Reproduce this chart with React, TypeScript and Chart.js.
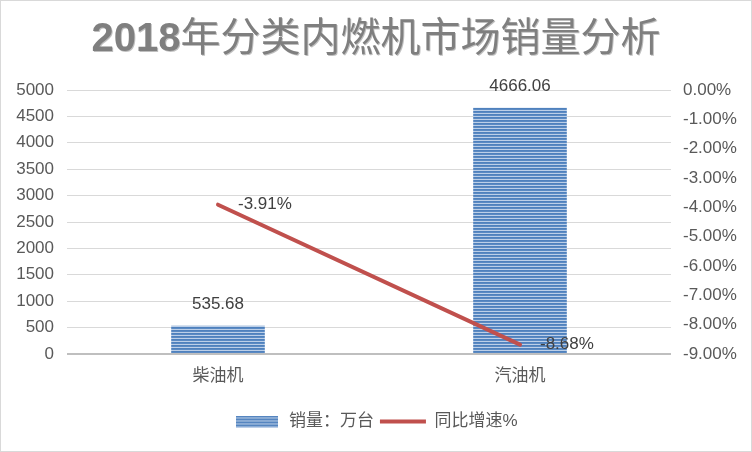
import { useEffect, useRef } from "react";
import { Chart, registerables } from "chart.js";
import type { Plugin } from "chart.js";

Chart.register(...registerables);

const titleYear = "2018";
const titleRest = "年分类内燃机市场销量分析";
const categories = ["柴油机", "汽油机"];
const salesLabel = "销量：万台";
const salesValues = [535.68, 4666.06];
const growthLabel = "同比增速%";
const growthValues = [-3.91, -8.68];

const FONT = "'Liberation Sans', 'Noto Sans CJK SC', sans-serif";
const TEXT = "#595959";

// horizontal stripe fill, 3px period
function stripes(w: number, h: number) {
  const c = document.createElement("canvas");
  c.width = w;
  c.height = h;
  const g = c.getContext("2d")!;
  const rows = ["#4f81bd", "#5b8ac3", "#bccfe8"];
  for (let y = 0; y < h; y++) {
    g.fillStyle = rows[y % 3];
    g.fillRect(0, y, w, 1);
  }
  return c;
}

const framePlugin: Plugin<"bar"> = {
  id: "frame",
  beforeDraw(chart) {
    const { ctx, width, height } = chart;
    ctx.save();
    ctx.fillStyle = "#ffffff";
    ctx.fillRect(0, 0, width, height);
    ctx.strokeStyle = "#d9d9d9";
    ctx.lineWidth = 1;
    ctx.strokeRect(0.5, 0.5, width - 1, height - 1);
    ctx.restore();
  },
  afterDraw(chart) {
    const ctx = chart.ctx;
    ctx.save();
    const boldFont = `bold 40px ${FONT}`;
    const plainFont = `40px ${FONT}`;
    ctx.font = boldFont;
    const w1 = ctx.measureText(titleYear).width;
    ctx.font = plainFont;
    const w2 = ctx.measureText(titleRest).width;
    const x0 = chart.width / 2 - (w1 + w2) / 2;
    ctx.textAlign = "left";
    ctx.textBaseline = "middle";
    ctx.shadowColor = "rgba(0,0,0,0.25)";
    ctx.shadowOffsetX = 1;
    ctx.shadowOffsetY = 1;
    ctx.fillStyle = "#7f7f7f";
    ctx.font = boldFont;
    ctx.fillText(titleYear, x0, 40);
    ctx.font = plainFont;
    ctx.fillText(titleRest, x0 + w1, 40);
    ctx.restore();
  },
};

const labelPlugin: Plugin<"bar"> = {
  id: "valueLabels",
  afterDatasetsDraw(chart) {
    const ctx = chart.ctx;
    ctx.save();
    ctx.font = `17px ${FONT}`;
    ctx.fillStyle = "#404040";
    ctx.textBaseline = "middle";
    chart.getDatasetMeta(0).data.forEach((el, i) => {
      ctx.textAlign = "center";
      ctx.fillText(salesValues[i].toFixed(2), el.x, el.y - 21);
    });
    chart.getDatasetMeta(1).data.forEach((el, i) => {
      ctx.textAlign = "left";
      ctx.fillText(growthValues[i].toFixed(2) + "%", el.x + 20, el.y);
    });
    ctx.restore();
  },
};

const App = () => {
  const canvasRef = useRef<HTMLCanvasElement>(null);
  const chartRef = useRef<Chart | null>(null);

  useEffect(() => {
    document.body.style.margin = "0";
    if (!canvasRef.current) return;
    const ctx = canvasRef.current.getContext("2d");
    if (!ctx) return;

    const barFill = ctx.createPattern(stripes(4, 3), "repeat")!;
    const legendSwatch = stripes(42, 12);

    chartRef.current = new Chart(ctx, {
      type: "bar",
      data: {
        labels: categories,
        datasets: [
          {
            type: "bar",
            label: salesLabel,
            data: salesValues,
            backgroundColor: barFill,
            borderWidth: 0,
            barPercentage: 0.31,
            categoryPercentage: 1,
            yAxisID: "y",
            order: 1,
            pointStyle: legendSwatch,
          } as any,
          {
            type: "line",
            label: growthLabel,
            data: growthValues,
            borderColor: "#c0504d",
            backgroundColor: "#c0504d",
            borderWidth: 4,
            borderCapStyle: "round",
            pointRadius: 0,
            pointStyle: "line",
            yAxisID: "y1",
            order: 0,
          },
        ],
      },
      options: {
        animation: false,
        responsive: false,
        layout: { padding: { top: 90, bottom: 12, left: 0, right: 0 } },
        plugins: {
          title: { display: false },
          tooltip: { enabled: false },
          legend: {
            position: "bottom",
            labels: {
              usePointStyle: true,
              pointStyleWidth: 46,
              padding: 6,
              color: TEXT,
              font: { size: 17, family: FONT },
              sort: (a, b) => (a.datasetIndex ?? 0) - (b.datasetIndex ?? 0),
            },
          },
        },
        scales: {
          x: {
            grid: { display: false },
            border: { display: false },
            ticks: { color: TEXT, font: { size: 17, family: FONT }, padding: 4 },
            afterFit: (s) => {
              s.height = 53;
            },
          },
          y: {
            position: "left",
            min: 0,
            max: 5000,
            ticks: {
              stepSize: 500,
              color: TEXT,
              font: { size: 17, family: FONT },
              padding: 13,
              callback: (v) => String(v),
            },
            grid: {
              drawTicks: false,
              color: (c) => (c.tick && c.tick.value === 0 ? "#bfbfbf" : "#d9d9d9"),
              lineWidth: (c) => (c.tick && c.tick.value === 0 ? 2 : 1),
            },
            border: { display: false },
            afterFit: (s) => {
              s.width = 67;
            },
          },
          y1: {
            position: "right",
            min: -9,
            max: 0,
            ticks: {
              stepSize: 1,
              color: TEXT,
              font: { size: 17, family: FONT },
              padding: 12,
              callback: (v) => Number(v).toFixed(2) + "%",
            },
            grid: { display: false, drawTicks: false },
            border: { display: false },
            afterFit: (s) => {
              s.width = 81;
            },
          },
        },
      },
      plugins: [framePlugin, labelPlugin],
    });

    return () => {
      chartRef.current?.destroy();
      chartRef.current = null;
    };
  }, []);

  return (
    <div style={{ position: "absolute", left: 0, top: 0, width: 752, height: 452 }}>
      <canvas ref={canvasRef} width={752} height={452} />
    </div>
  );
};

export default App;
